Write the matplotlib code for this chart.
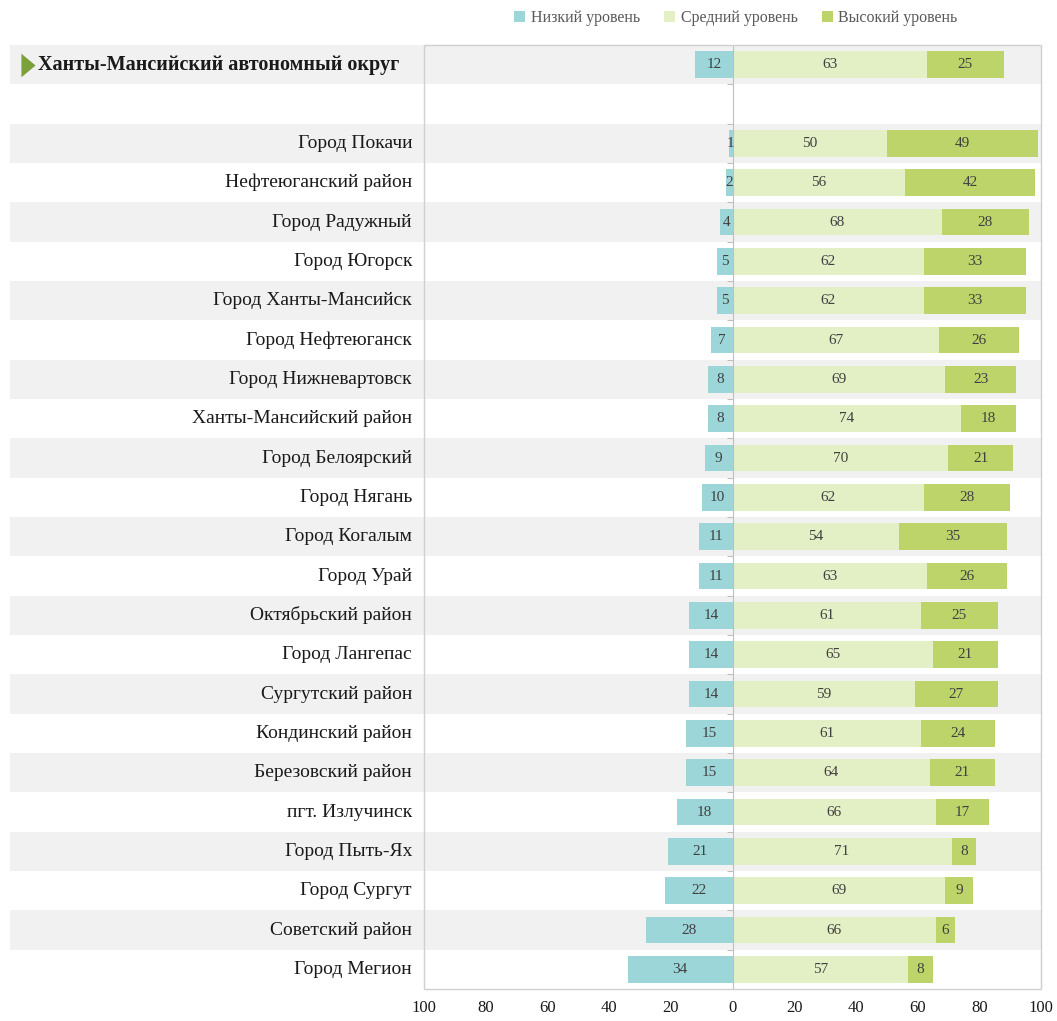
import matplotlib
matplotlib.use("Agg")
import matplotlib.pyplot as plt
import matplotlib.transforms as mtransforms
from matplotlib.patches import Rectangle, Patch

plt.rcParams['font.family'] = ['Liberation Serif', 'DejaVu Serif']

total_label = "Ханты-Мансийский автономный округ"
total_values = (12, 63, 25)

districts = [
    "Город Покачи", "Нефтеюганский район", "Город Радужный", "Город Югорск",
    "Город Ханты-Мансийск", "Город Нефтеюганск", "Город Нижневартовск",
    "Ханты-Мансийский район", "Город Белоярский", "Город Нягань",
    "Город Когалым", "Город Урай", "Октябрьский район", "Город Лангепас",
    "Сургутский район", "Кондинский район", "Березовский район",
    "пгт. Излучинск", "Город Пыть-Ях", "Город Сургут", "Советский район",
    "Город Мегион",
]
low = [1, 2, 4, 5, 5, 7, 8, 8, 9, 10, 11, 11, 14, 14, 14, 15, 15, 18, 21, 22, 28, 34]
mid = [50, 56, 68, 62, 62, 67, 69, 74, 70, 62, 54, 63, 61, 65, 59, 61, 64, 66, 71, 69, 66, 57]
high = [49, 42, 28, 33, 33, 26, 23, 18, 21, 28, 35, 26, 25, 21, 27, 24, 21, 17, 8, 9, 6, 8]

series_names = ["Низкий уровень", "Средний уровень", "Высокий уровень"]
x_ticks = [-100, -80, -60, -40, -20, 0, 20, 40, 60, 80, 100]

c_low = "#9dd6d9"
c_mid = "#e3efc5"
c_high = "#bdd46b"
c_band = "#f1f1f1"
c_text = "#1a1a1a"
c_num = "#404040"

W, H = 1057, 1021
fig = plt.figure(figsize=(W / 100, H / 100), dpi=100)
ax = fig.add_axes([424 / W, 1 - 989 / H, (1041 - 424) / W, (989 - 45) / H])

# rows: total, blank spacer, then districts
labels = [total_label, ""] + districts
L = [total_values[0], None] + low
M = [total_values[1], None] + mid
Hh = [total_values[2], None] + high
n = len(labels)

ax.set_xlim(-100, 100)
ax.set_ylim(n - 0.5, -0.5)

# alternating background bands that reach into the label column
band_tr = mtransforms.blended_transform_factory(fig.transFigure, ax.transData)
band_rows = [0] + [2 + i for i in range(len(districts)) if i % 2 == 0]
for r in band_rows:
    ax.add_patch(Rectangle((10 / W, r - 0.5), (1041 - 10) / W, 1.0,
                           transform=band_tr, facecolor=c_band, edgecolor="none",
                           zorder=0, clip_on=False))

bh = 0.68
for i in range(n):
    if L[i] is None:
        continue
    lo, me, hi = L[i], M[i], Hh[i]
    ax.barh(i, -lo, height=bh, color=c_low, zorder=2)
    ax.barh(i, me, height=bh, color=c_mid, zorder=2)
    ax.barh(i, hi, left=me, height=bh, color=c_high, zorder=2)
    fs = 11
    ax.text(-lo / 2, i, str(lo), ha="center", va="center", fontsize=fs, color=c_num, zorder=3)
    ax.text(me / 2, i, str(me), ha="center", va="center", fontsize=fs, color=c_num, zorder=3)
    ax.text(me + hi / 2, i, str(hi), ha="center", va="center", fontsize=fs, color=c_num, zorder=3)

# category labels
lab_tr = mtransforms.blended_transform_factory(fig.transFigure, ax.transData)
for i, lab in enumerate(labels):
    if i == 0:
        ax.text(38 / W, i, lab, transform=lab_tr, ha="left", va="center",
                fontsize=14.5, fontweight="bold", color=c_text, clip_on=False)
    elif lab:
        ax.text(412 / W, i, lab, transform=lab_tr, ha="right", va="center",
                fontsize=14, color=c_text, clip_on=False)
ax.plot([28 / W], [0], transform=lab_tr, marker=[(-0.6, -1), (0.6, 0), (-0.6, 1)],
        markersize=17, color="#7ba23a", markeredgewidth=0, clip_on=False, zorder=4)

# zero axis with small ticks on row boundaries
ax.spines["left"].set_position(("data", 0))
ax.spines["left"].set_color("#bfbfbf")
ax.spines["left"].set_zorder(2.5)
for s in ["top", "right", "bottom"]:
    ax.spines[s].set_visible(False)
ax.add_patch(Rectangle((0, 0), 1, 1, transform=ax.transAxes, fill=False,
                       edgecolor="#d0d0d0", linewidth=1.0, zorder=5, clip_on=False))
ax.set_yticks([r + 0.5 for r in range(n - 1)])
ax.set_yticklabels([])
ax.tick_params(axis="y", length=4, color="#bfbfbf", direction="out")

ax.set_xticks(x_ticks)
ax.set_xticklabels([str(abs(v)) for v in x_ticks], fontsize=12, color=c_text)
ax.tick_params(axis="x", length=0, pad=8)

handles = [Patch(facecolor=c, edgecolor="none") for c in (c_low, c_mid, c_high)]
fig.legend(handles, series_names, loc="center", bbox_to_anchor=(736 / W, 1 - 18 / H),
           ncol=3, frameon=False, fontsize=11.5, labelcolor="#595959",
           handlelength=0.7, handleheight=0.7, handletextpad=0.35, columnspacing=1.5)

fig.savefig("out.png", dpi=100, facecolor="white")
